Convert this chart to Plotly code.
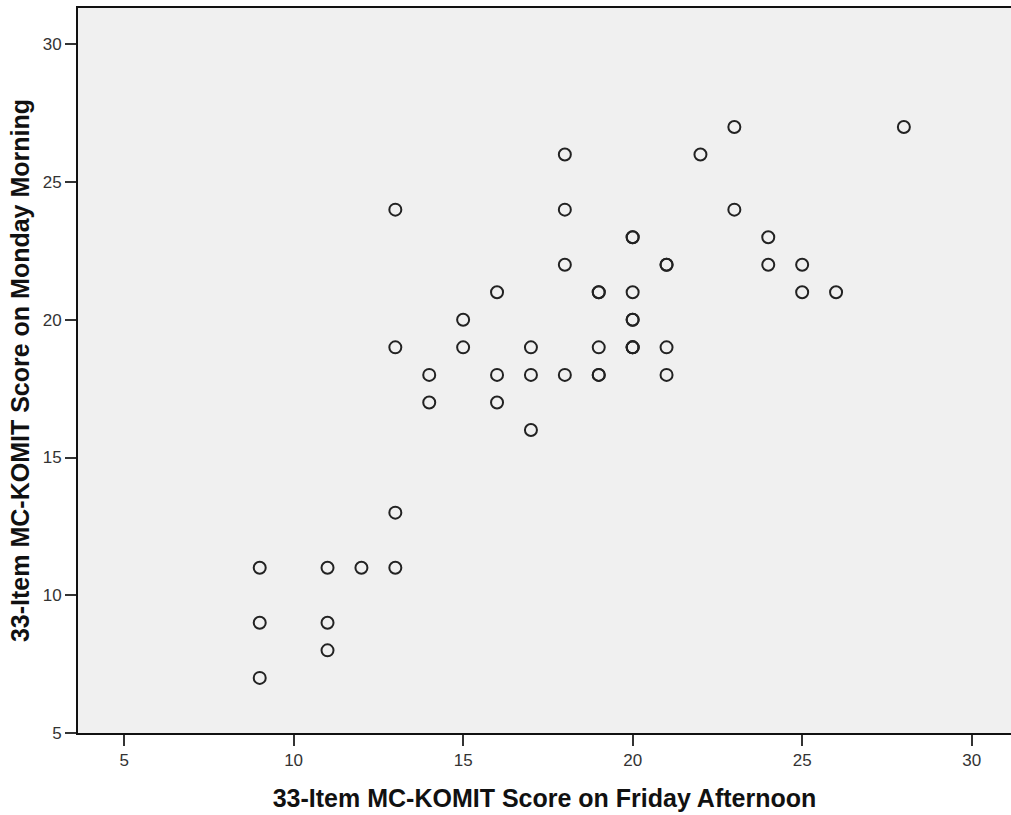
import plotly.graph_objects as go

# Friday afternoon scores (x) and Monday morning scores (y); duplicates drawn at the same place
friday = [9, 9, 9, 11, 11, 11, 12, 13, 13, 13, 13, 14, 14, 15, 15, 16, 16, 16,
          17, 17, 17, 18, 18, 18, 18, 19, 19, 19, 19, 19, 20, 20, 20, 20, 20, 20, 20, 20,
          21, 21, 21, 21, 22, 23, 23, 24, 24, 25, 25, 26, 28]
monday = [11, 9, 7, 11, 9, 8, 11, 11, 13, 19, 24, 18, 17, 20, 19, 21, 18, 17,
          19, 18, 16, 26, 24, 22, 18, 21, 21, 19, 18, 18, 23, 23, 21, 20, 20, 19, 19, 19,
          22, 22, 19, 18, 26, 27, 24, 23, 22, 22, 21, 21, 27]

x_ticks = [5, 10, 15, 20, 25, 30]
y_ticks = [5, 10, 15, 20, 25, 30]

fig = go.Figure()
fig.add_trace(go.Scatter(
    x=friday, y=monday, mode="markers",
    marker=dict(symbol="circle-open", size=12, color="#222222", line=dict(width=2, color="#222222")),
    showlegend=False, hoverinfo="x+y",
))

tickfont = dict(family="Arial, Liberation Sans, sans-serif", size=17, color="#333333")
titlefont = dict(family="Arial, Liberation Sans, sans-serif", size=25, color="#111111")

fig.update_layout(
    width=1011, height=815,
    margin=dict(l=78, r=0, t=8, b=82),
    paper_bgcolor="white",
    plot_bgcolor="#F0F0F0",
    xaxis=dict(
        range=[3.64, 31.16], tickvals=x_ticks, ticktext=[str(v) for v in x_ticks],
        showgrid=False, zeroline=False,
        showline=True, linecolor="#111111", linewidth=2, mirror=True,
        ticks="outside", ticklen=11, tickwidth=2, tickcolor="#333333",
        tickfont=tickfont,
        title=dict(text="<b>33-Item MC-KOMIT Score on Friday Afternoon</b>", font=titlefont, standoff=20),
    ),
    yaxis=dict(
        range=[5, 31.32], tickvals=y_ticks, ticktext=[str(v) for v in y_ticks],
        showgrid=False, zeroline=False,
        showline=True, linecolor="#111111", linewidth=2,
        ticks="outside", ticklen=11, tickwidth=2, tickcolor="#333333",
        tickfont=tickfont,
        title=dict(text="<b>33-Item MC-KOMIT Score on Monday Morning</b>", font=titlefont, standoff=6),
    ),
)

fig.write_html("out.html", config={"displayModeBar": False},
               post_script="document.body.style.margin='0';document.body.style.overflow='hidden';")
